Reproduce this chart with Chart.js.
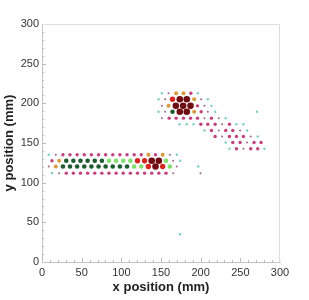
<!DOCTYPE html>
<html>
<head>
<meta charset="utf-8">
<script src="https://cdn.jsdelivr.net/npm/chart.js@4.4.1/dist/chart.umd.min.js"></script>
<style>
  html, body { margin: 0; padding: 0; background: #fff; }
</style>
</head>
<body>
<canvas id="positionChart" width="309" height="300"></canvas>
<script>
// detector rows: y of each row, x of each hit in the row, and its level (0..7)
const rowY = [135.1, 127.6, 120.4, 112.0,
              212.8, 205.2, 196.8, 189.3, 181.3, 173.7, 165.8, 158.2, 150.6, 142.7];
const rowX = [
  [8.4, 17.4, 26.4, 35.3, 44.3, 53.3, 62.3, 71.3, 80.2, 89.2, 98.2, 107.2, 116.2, 125.1, 134.1, 143.1, 152.1, 161.1, 170.0],
  [12.6, 21.6, 30.6, 39.5, 48.5, 57.5, 66.5, 75.5, 84.4, 93.4, 102.4, 111.4, 120.4, 129.3, 138.3, 147.3, 156.3, 165.3, 174.2],
  [8.4, 17.4, 26.4, 35.3, 44.3, 53.3, 62.3, 71.3, 80.2, 89.2, 98.2, 107.2, 116.2, 125.1, 134.1, 143.1, 152.1, 161.1, 170.0],
  [12.6, 21.6, 30.6, 39.5, 48.5, 57.5, 66.5, 75.5, 84.4, 93.4, 102.4, 111.4, 120.4, 129.3, 138.3, 147.3, 156.3, 165.3],
  [151.1, 159.5, 169.1, 178.3, 187.6, 196.4],
  [146.9, 155.3, 164.5, 173.7, 182.5, 191.8, 200.6, 209.0],
  [151.1, 159.5, 168.7, 177.9, 187.2, 196.0, 204.8, 213.6],
  [146.9, 155.3, 164.5, 173.7, 182.5, 191.8, 200.6, 209.0, 218.2],
  [151.1, 160.3, 169.1, 178.3, 187.2, 196.0, 204.8, 213.6, 222.8, 231.6],
  [173.3, 182.5, 190.9, 200.2, 209.0, 218.2, 227.0, 236.3, 245.1, 253.9],
  [204.8, 213.6, 222.8, 231.6, 240.5, 249.7, 258.5],
  [218.2, 227.0, 236.3, 245.1, 253.9, 263.1, 271.9],
  [231.6, 240.5, 249.7, 258.5, 267.3, 276.1],
  [236.3, 245.1, 253.9, 263.1, 271.9, 280.3]
];
const rowLevel = [
  [1, 0, 2, 2, 2, 2, 2, 2, 2, 2, 2, 2, 2, 2, 3, 2, 3, 0, 1],
  [2, 3, 4, 4, 4, 4, 4, 4, 5, 5, 5, 5, 6, 6, 7, 7, 5, 0, 1],
  [0, 3, 4, 4, 4, 4, 4, 4, 4, 4, 4, 4, 5, 5, 6, 7, 6, 5, 0],
  [1, 0, 2, 2, 2, 2, 2, 2, 2, 2, 2, 2, 2, 2, 2, 2, 2, 0],
  [1, 0, 3, 3, 2, 1],
  [1, 0, 6, 7, 7, 3, 0, 1],
  [0, 3, 7, 7, 7, 2, 0, 1],
  [1, 0, 4, 7, 7, 3, 2, 0, 1],
  [0, 2, 2, 2, 2, 2, 0, 2, 0, 1],
  [1, 1, 1, 2, 2, 2, 0, 2, 1, 1],
  [1, 2, 0, 2, 2, 0, 1],
  [2, 0, 2, 2, 2, 0, 1],
  [1, 2, 2, 0, 2, 2],
  [1, 2, 0, 2, 2, 1]
];
// isolated hits
const strayX = [197.0, 199.7, 174.0, 271.0];
const strayY = [120.4, 112.0, 35.0, 189.3];
const strayLevel = [1, 0, 1, 1];

const axisTicks = [0, 50, 100, 150, 200, 250, 300];

// look of each level
const levelColor = ['#9a6584', '#7ccfc0', '#c2407c', '#d99a3c', '#1e5b2f', '#80df6c', '#d5271f', '#6f0c12'];
const levelRadius = [1.0, 1.2, 1.7, 2.0, 2.3, 2.3, 2.7, 3.3];

const buckets = levelColor.map(() => []);
rowY.forEach(function(y, r) {
  rowX[r].forEach(function(x, i) {
    buckets[rowLevel[r][i]].push({ x: x, y: y });
  });
});
strayX.forEach(function(x, i) {
  buckets[strayLevel[i]].push({ x: x, y: strayY[i] });
});

const datasets = buckets.map(function(pts, lv) {
  return {
    data: pts,
    backgroundColor: levelColor[lv],
    borderWidth: 0,
    pointRadius: levelRadius[lv],
    pointHoverRadius: levelRadius[lv]
  };
});

// inward minor/major ticks plus a light frame
const innerTicks = {
  id: 'innerTicks',
  afterDraw(chart) {
    const ctx = chart.ctx;
    const a = chart.chartArea;
    const xs = chart.scales.x, ys = chart.scales.y;
    ctx.save();
    ctx.strokeStyle = '#dcdcdc';
    ctx.lineWidth = 1;
    ctx.beginPath();
    ctx.moveTo(a.left, a.top + 0.5);
    ctx.lineTo(a.right - 0.5, a.top + 0.5);
    ctx.lineTo(a.right - 0.5, a.bottom);
    ctx.stroke();
    ctx.strokeStyle = '#b8b8b8';
    ctx.beginPath();
    for (let v = 10; v < 300; v += 10) {
      const len = axisTicks.includes(v) ? 4 : 2;
      const px = Math.round(xs.getPixelForValue(v)) + 0.5;
      ctx.moveTo(px, a.bottom);
      ctx.lineTo(px, a.bottom - len);
      const py = Math.round(ys.getPixelForValue(v)) + 0.5;
      ctx.moveTo(a.left, py);
      ctx.lineTo(a.left + len, py);
    }
    ctx.stroke();
    ctx.restore();
  }
};

const tickFont = { family: "'Liberation Sans', Arial, sans-serif", size: 11 };
const titleFont = { family: "'Liberation Sans', Arial, sans-serif", size: 13, weight: 'bold' };

new Chart(document.getElementById('positionChart').getContext('2d'), {
  type: 'scatter',
  data: { datasets: datasets },
  options: {
    responsive: false,
    animation: false,
    layout: { padding: { top: 24, right: 29, left: 0, bottom: 0 } },
    plugins: { legend: { display: false }, tooltip: { enabled: false } },
    scales: {
      x: {
        type: 'linear', min: 0, max: 300,
        afterBuildTicks: function(s) { s.ticks = axisTicks.map(v => ({ value: v })); },
        ticks: { color: '#333', font: tickFont, padding: 4, maxRotation: 0 },
        grid: { drawOnChartArea: false, drawTicks: false },
        border: { color: '#c4c4c4' },
        title: { display: true, text: 'x position (mm)', color: '#222', font: titleFont, padding: { top: 0, bottom: 5 } },
        afterFit: function(s) { s.height = 38; }
      },
      y: {
        type: 'linear', min: 0, max: 300,
        afterBuildTicks: function(s) { s.ticks = axisTicks.map(v => ({ value: v })); },
        ticks: { color: '#333', font: tickFont, padding: 3 },
        grid: { drawOnChartArea: false, drawTicks: false },
        border: { color: '#c4c4c4' },
        title: { display: true, text: 'y position (mm)', color: '#222', font: titleFont, padding: { top: 2, bottom: 0 } },
        afterFit: function(s) { s.width = 42; }
      }
    }
  },
  plugins: [innerTicks]
});
</script>
</body>
</html>
